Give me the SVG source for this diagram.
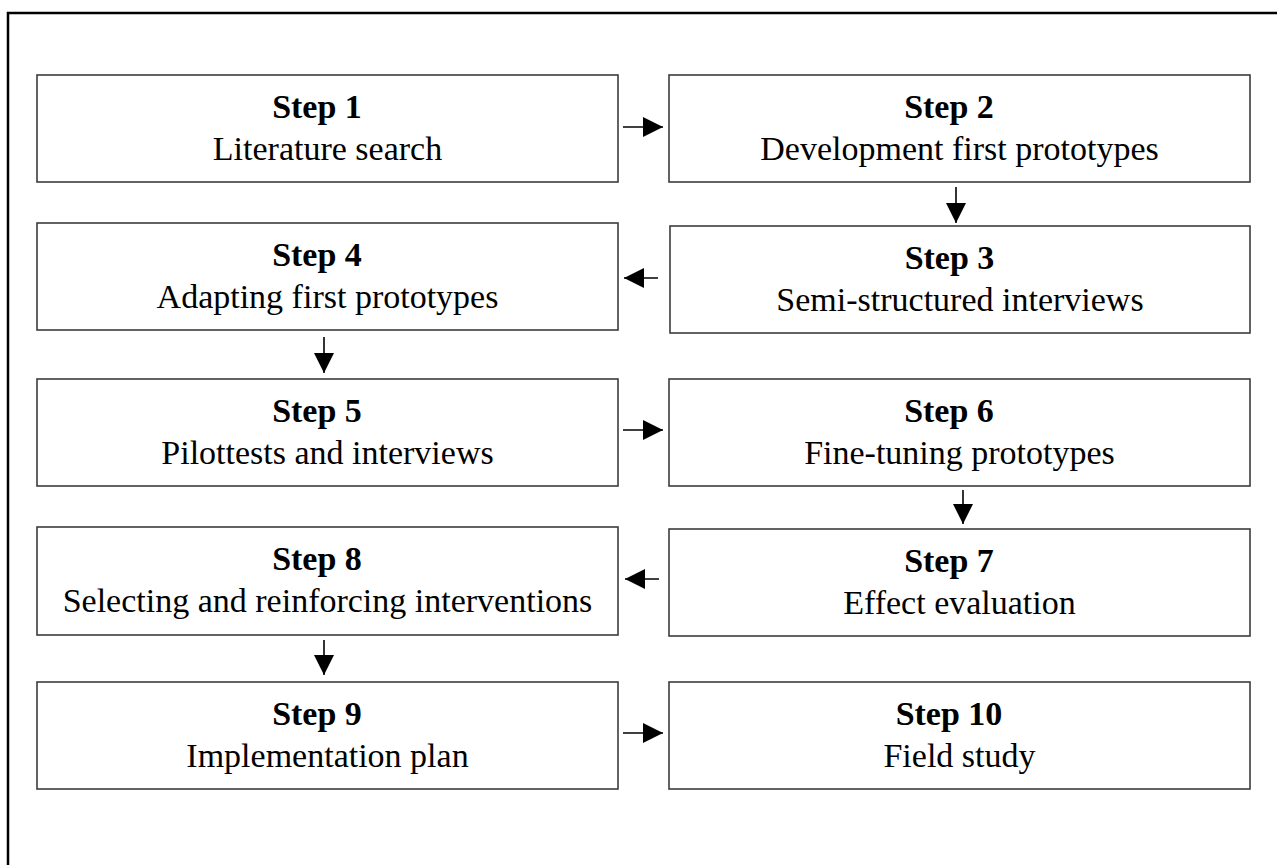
<svg xmlns="http://www.w3.org/2000/svg" width="1277" height="865" viewBox="0 0 1277 865">
<style>
.box{fill:#fff;stroke:#3c3c3c;stroke-width:1.6}
.t1{font-family:"Liberation Serif","Times New Roman",serif;font-weight:bold;font-size:34px;fill:#000;text-anchor:middle}
.t2{font-family:"Liberation Serif","Times New Roman",serif;font-size:34px;fill:#000;text-anchor:middle}
.conn{stroke:#000;stroke-width:1.6;fill:none;marker-end:url(#ah)}
</style>
<defs>
<marker id="ah" markerUnits="userSpaceOnUse" markerWidth="20" markerHeight="20" viewBox="0 0 18 18" refX="18" refY="9" orient="auto">
<path d="M0,0 L18,9 L0,18 Z" fill="#000"/>
</marker>
</defs>
<rect width="1277" height="865" fill="#fff"/>
<rect id="frame" x="8" y="13" width="1290" height="880" fill="none" stroke="#000" stroke-width="2.5"/>
<g id="step1"><rect class="box" x="37" y="75" width="581" height="107"/><text class="t1" x="317" y="118">Step 1</text><text class="t2" x="327.5" y="160">Literature search</text></g>
<g id="step2"><rect class="box" x="669" y="75" width="581" height="107"/><text class="t1" x="949" y="118">Step 2</text><text class="t2" x="959.5" y="160">Development first prototypes</text></g>
<g id="step4"><rect class="box" x="37" y="223" width="581" height="107"/><text class="t1" x="317" y="266">Step 4</text><text class="t2" x="327.5" y="308">Adapting first prototypes</text></g>
<g id="step3"><rect class="box" x="670" y="226" width="580" height="107"/><text class="t1" x="949.5" y="269">Step 3</text><text class="t2" x="960" y="311">Semi-structured interviews</text></g>
<g id="step5"><rect class="box" x="37" y="379" width="581" height="107"/><text class="t1" x="317" y="422">Step 5</text><text class="t2" x="327.5" y="464">Pilottests and interviews</text></g>
<g id="step6"><rect class="box" x="669" y="379" width="581" height="107"/><text class="t1" x="949" y="422">Step 6</text><text class="t2" x="959.5" y="464">Fine-tuning prototypes</text></g>
<g id="step8"><rect class="box" x="37" y="527" width="581" height="108"/><text class="t1" x="317" y="570">Step 8</text><text class="t2" x="327.5" y="612">Selecting and reinforcing interventions</text></g>
<g id="step7"><rect class="box" x="669" y="529" width="581" height="107"/><text class="t1" x="949" y="572">Step 7</text><text class="t2" x="959.5" y="614">Effect evaluation</text></g>
<g id="step9"><rect class="box" x="37" y="682" width="581" height="107"/><text class="t1" x="317" y="725">Step 9</text><text class="t2" x="327.5" y="767">Implementation plan</text></g>
<g id="step10"><rect class="box" x="669" y="682" width="581" height="107"/><text class="t1" x="949" y="725">Step 10</text><text class="t2" x="959.5" y="767">Field study</text></g>
<g id="connectors">
<line class="conn" x1="623" y1="127" x2="663" y2="127"/>
<line class="conn" x1="956" y1="187" x2="956" y2="223"/>
<line class="conn" x1="658" y1="278" x2="624" y2="278"/>
<line class="conn" x1="324" y1="337" x2="324" y2="373"/>
<line class="conn" x1="623" y1="430" x2="663" y2="430"/>
<line class="conn" x1="963" y1="490" x2="963" y2="524"/>
<line class="conn" x1="659" y1="579" x2="625" y2="579"/>
<line class="conn" x1="324" y1="640" x2="324" y2="675"/>
<line class="conn" x1="623" y1="733" x2="663" y2="733"/>
</g>
</svg>
